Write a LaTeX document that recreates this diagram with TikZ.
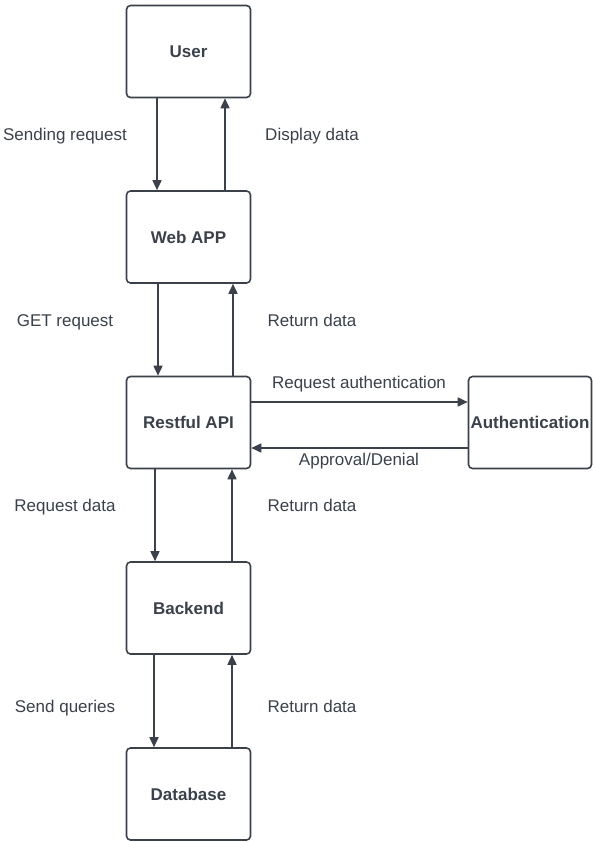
\documentclass[tikz,border=0pt]{standalone}
\usepackage{fontspec}
\setmainfont{Liberation Sans}
\usetikzlibrary{arrows.meta}
\definecolor{ink}{HTML}{3A414A}
\begin{document}
\begin{tikzpicture}[x=1pt,y=-1pt,
  box/.style={draw=ink,line width=1.6pt,rounded corners=4pt,minimum width=124pt,minimum height=92pt,inner sep=0pt,
    text=ink,font=\fontsize{17}{20}\selectfont\bfseries},
  lbl/.style={text=ink,font=\fontsize{17}{20}\selectfont,inner sep=0pt,text height=12pt,text depth=3.5pt},
  arr/.style={draw=ink,line width=1.6pt,-{Triangle[length=10pt,width=9pt]}}]
\useasboundingbox (0,0) rectangle (592,842);
\node[box] (user) at (188.5,51.5) {User};
\node[box] (web) at (188.5,237) {Web APP};
\node[box] (rest) at (188.5,422.5) {Restful API};
\node[box] (back) at (188.5,608) {Backend};
\node[box] (db) at (188.5,794) {Database};
\node[box,minimum width=123pt] (auth) at (530,422.5) {Authentication};

\draw[arr] ([xshift=-31.5pt]user.south) -- ([xshift=-31.5pt]web.north);
\draw[arr] ([xshift=36.5pt]web.north) -- ([xshift=36.5pt]user.south);
\draw[arr] ([xshift=-30.5pt]web.south) -- ([xshift=-30.5pt]rest.north);
\draw[arr] ([xshift=44.5pt]rest.north) -- ([xshift=44.5pt]web.south);
\draw[arr] ([xshift=-33.5pt]rest.south) -- ([xshift=-33.5pt]back.north);
\draw[arr] ([xshift=43.5pt]back.north) -- ([xshift=43.5pt]rest.south);
\draw[arr] ([xshift=-34.5pt]back.south) -- ([xshift=-34.5pt]db.north);
\draw[arr] ([xshift=43.5pt]db.north) -- ([xshift=43.5pt]back.south);
\draw[arr] ([yshift=20.5pt]rest.east) -- ([yshift=20.5pt]auth.west);
\draw[arr] ([yshift=-25.5pt]auth.west) -- ([yshift=-25.5pt]rest.east);

\node[lbl] (l1) at (65,136) {Sending request};
\node[lbl] (r1) at (312,136) {Display data};
\node[lbl] (l2) at (65,322) {GET request};
\node[lbl] (r2) at (312,322) {Return data};
\node[lbl] (l3) at (65,507) {Request data};
\node[lbl] (r3) at (312,507) {Return data};
\node[lbl] (l4) at (65,708) {Send queries};
\node[lbl] (r4) at (312,708) {Return data};
\node[lbl] (ra) at (359,384) {Request authentication};
\node[lbl] (ad) at (359,461) {Approval/Denial};
\end{tikzpicture}
\end{document}
